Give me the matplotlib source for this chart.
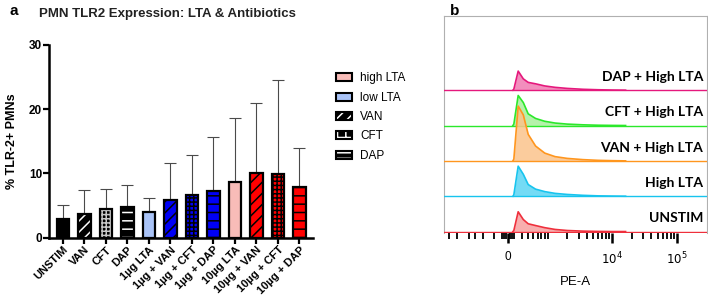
import matplotlib
matplotlib.use('Agg')
import matplotlib.pyplot as plt
from matplotlib.patches import Patch

plt.rcParams['font.family'] = ['Liberation Sans', 'DejaVu Sans']
plt.rcParams['hatch.linewidth'] = 1.1

# panel a data
conditions = ['UNSTIM', 'VAN', 'CFT', 'DAP', '1µg LTA', '1µg + VAN', '1µg + CFT',
              '1µg + DAP', '10µg LTA', '10µg + VAN', '10µg + CFT', '10µg + DAP']
means = [2.9, 3.75, 4.4, 4.8, 4.0, 5.9, 6.7, 7.2, 8.6, 10.05, 9.85, 7.9]
sd = [2.2, 3.7, 3.2, 3.4, 2.15, 5.7, 6.1, 8.4, 10.0, 10.95, 14.75, 6.1]
fill_colors = ['black'] * 4 + ['#a9c3f7'] + ['#0000f5'] * 3 + ['#f8bcb8'] + ['#ff0000'] * 3
hatches = [None, '///', '++++', '--', None, '///', '++++', '--', None, '///', '++++', '--']
hatch_colors = ['black', 'white', '#c8c8c8', 'white'] + ['black'] * 8

# panel b data: histogram samples (PE-A) and modal heights per sample
pe_values = [250, 300, 350, 420, 500, 650, 900, 1300, 2000, 3500, 6000, 10000, 16000]
hist_names = ['UNSTIM', 'High LTA', 'VAN + High LTA', 'CFT + High LTA', 'DAP + High LTA']
hist_heights = [
    [0, 0.03, 0.56, 0.34, 0.22, 0.17, 0.11, 0.06, 0.03, 0.012, 0.004, 0, 0],
    [0, 0.04, 0.85, 0.62, 0.33, 0.2, 0.13, 0.08, 0.05, 0.025, 0.01, 0.004, 0],
    [0, 0.05, 1.55, 1.3, 0.75, 0.42, 0.22, 0.12, 0.07, 0.035, 0.015, 0.005, 0],
    [0, 0.04, 0.85, 0.65, 0.33, 0.2, 0.12, 0.07, 0.04, 0.02, 0.008, 0.003, 0],
    [0, 0.03, 0.54, 0.32, 0.22, 0.18, 0.12, 0.08, 0.05, 0.025, 0.012, 0.004, 0],
]
line_colors = ['#ef2f3c', '#17c4ee', '#ff961e', '#2be82b', '#e5187c']
area_colors = ['#f7a0a0', '#5cd5f4', '#fbc38c', '#a8ef9c', '#f07ab2']

fig = plt.figure(figsize=(7.08, 3.01), dpi=100)

# ---- panel a ----
ax = fig.add_axes([0.0692, 0.2103, 0.3729, 0.6402])
x = list(range(len(conditions)))
ax.bar(x, means, width=0.6, color=fill_colors, edgecolor=hatch_colors,
       hatch=hatches, linewidth=0, zorder=2)
ax.bar(x, means, width=0.6, fill=False, edgecolor='black', linewidth=1.6, zorder=3)
ax.errorbar(x, means, yerr=[[0] * len(sd), sd], fmt='none', ecolor='#4a4a4a',
            elinewidth=0.8, capsize=4, capthick=0.8, zorder=1)
ax.set_xlim(-0.65, 11.63)
ax.set_ylim(0, 30)
ax.set_yticks([0, 10, 20, 30])
ax.set_xticks(x)
ax.set_xticklabels(conditions, rotation=45, ha='right', rotation_mode='anchor',
                   fontsize=8, fontweight='bold')
for lab in ax.get_yticklabels():
    lab.set_fontweight('bold')
    lab.set_fontsize(8.5)
ax.tick_params(axis='both', width=1.6, length=4, pad=1)
ax.spines['top'].set_visible(False)
ax.spines['right'].set_visible(False)
ax.spines['left'].set_linewidth(1.8)
ax.spines['bottom'].set_linewidth(1.8)
ax.set_ylabel('% TLR-2+ PMNs', fontsize=9, fontweight='bold', labelpad=8)

fig.text(0.236, 0.952, 'PMN TLR2 Expression: LTA & Antibiotics', ha='center', va='center',
         fontsize=9.5, fontweight='bold', color='#222222')
fig.text(0.014, 0.965, 'a', fontsize=11, fontweight='bold', va='center')
fig.text(0.636, 0.965, 'b', fontsize=11, fontweight='bold', va='center')

legend_handles = [
    (Patch(facecolor='#f8bcb8', edgecolor='black', linewidth=1.5),),
    (Patch(facecolor='#a9c3f7', edgecolor='black', linewidth=1.5),),
    (Patch(facecolor='black', edgecolor='white', hatch='///', linewidth=0),
     Patch(fill=False, edgecolor='black', linewidth=1.5)),
    (Patch(facecolor='black', edgecolor='white', hatch='++', linewidth=0),
     Patch(fill=False, edgecolor='black', linewidth=1.5)),
    (Patch(facecolor='black', edgecolor='white', hatch='---', linewidth=0),
     Patch(fill=False, edgecolor='black', linewidth=1.5)),
]
fig.legend(legend_handles, ['high LTA', 'low LTA', 'VAN', 'CFT', 'DAP'],
           loc='upper left', bbox_to_anchor=(0.468, 0.775), frameon=False,
           fontsize=8.5, handlelength=1.35, handleheight=0.65, labelspacing=0.62,
           handletextpad=0.7, borderaxespad=0)

# ---- panel b ----
bx = fig.add_axes([0.627, 0.226, 0.3716, 0.721])
bx.set_xscale('symlog', linthresh=300, linscale=0.08)
for i, (name, h) in enumerate(zip(hist_names, hist_heights)):
    z = 10 - i
    base = [i] * len(pe_values)
    top = [i + v for v in h]
    bx.fill_between(pe_values, base, top, color=area_colors[i], alpha=0.85,
                    linewidth=0, zorder=z)
    bx.plot(pe_values, top, color=line_colors[i], linewidth=1.2, zorder=z + 0.1)
    bx.axhline(i, color=line_colors[i], linewidth=1.0, zorder=z + 0.2)
    bx.text(0.985, i + 0.37, name, transform=bx.get_yaxis_transform(), ha='right',
            va='center', fontsize=10, fontweight='bold', family=['Lato', 'DejaVu Sans'],
            zorder=20)
bx.set_xlim(-2400, 290000)
bx.set_ylim(-0.04, 6.1)
bx.set_yticks([])
bx.set_xticks([0, 1e4, 1e5])
bx.set_xticklabels(['0', '$10^4$', '$10^5$'], fontsize=8.5)
minor = [-2000, -1500, -1000, -800, -600, -400, -300, -200, -100, 100, 200, 300,
         400, 500, 600, 700, 800, 900, 1000, 2000, 3000, 4000, 5000, 6000, 7000,
         8000, 9000, 20000, 30000, 40000, 50000, 60000, 70000, 80000, 90000]
bx.set_xticks(minor, minor=True)
bx.tick_params(axis='x', which='major', length=7, width=1.8, pad=6)
bx.tick_params(axis='x', which='minor', length=4, width=1.3)
for side in ['left', 'top', 'right']:
    bx.spines[side].set_color('#b0b0b0')
    bx.spines[side].set_linewidth(0.8)
bx.spines['bottom'].set_visible(False)
bx.set_xlabel('PE-A', fontsize=9.5, labelpad=6)

fig.savefig('out.png', dpi=100)
